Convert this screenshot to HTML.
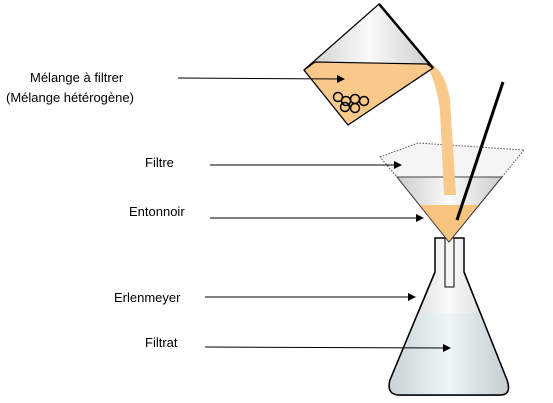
<!DOCTYPE html>
<html><head><meta charset="utf-8"><style>
body{margin:0;background:#fff}
svg{display:block}
text{font-family:"Comic Sans MS","Liberation Sans",sans-serif;font-size:13px;fill:#000}
</style></head><body>
<svg width="553" height="403" viewBox="0 0 553 403">
<defs>
<marker id="ah" markerWidth="8" markerHeight="8" refX="7" refY="4" orient="auto"><path d="M0,0 L8,4 L0,8z" fill="#000"/></marker>
<linearGradient id="glass" x1="0" x2="1"><stop offset="0" stop-color="#c9d3d6"/><stop offset="0.5" stop-color="#eef6f9"/><stop offset="1" stop-color="#c3ccd0"/></linearGradient>
<linearGradient id="fg" x1="0" x2="1"><stop offset="0" stop-color="#ccc"/><stop offset="0.5" stop-color="#fafafa"/><stop offset="1" stop-color="#ccc"/></linearGradient>
</defs>
<g>
<path d="M435,238 L435,272 L390,380 Q386,395 400,395 L500,395 Q512,395 507,380 L464,272 L464,238 Z" fill="url(#fg)" stroke="#000" stroke-width="1.5"/>
<path d="M418,313 L481,313 L507,380 Q512,395 500,395 L400,395 Q386,395 390,380 Z" fill="url(#glass)"/>
<path d="M435,272 L390,380 Q386,395 400,395 L500,395 Q512,395 507,380 L464,272" fill="none" stroke="#000" stroke-width="1.5"/>
<rect x="445" y="238" width="9" height="49" fill="#f4f4f4" stroke="#000"/>
</g>
<g>
<path d="M397,177 L502,177 L449,242 Z" fill="url(#fg)" stroke="#444"/>
<path d="M419,205 L479,205 L449,242 Z" fill="#f6c47f"/>
<path d="M380,157 L418,143 L524,150 L502,177 L397,177 Z" fill="#f2f2f2" fill-opacity="0.8" stroke="#555" stroke-dasharray="1.5,1.5"/>
<path d="M397,177 L502,177 L449,242 Z" fill="none" stroke="#444"/>
</g>
<path d="M430,63 Q446,72 450,100 L456,195 L444,195 L440,110 Q436,82 428,68 Z" fill="#f8c98a"/>
<line x1="503" y1="82" x2="457" y2="220" stroke="#000" stroke-width="3"/>
<g>
<path d="M379,4 L433,68 L348,125 L304,70 Z" fill="url(#fg)" stroke="#000" stroke-width="1.2"/>
<path d="M315,62 L427,64 L433,68 L348,125 L304,70 Z" fill="#f8c98a" stroke="#000" stroke-width="1.2"/>
<line x1="379" y1="4" x2="433" y2="68" stroke="#000" stroke-width="2.5"/>
<g fill="none" stroke="#000" stroke-width="1.5">
<circle cx="338" cy="97" r="4.5"/><circle cx="346" cy="101" r="4.5"/><circle cx="355" cy="99" r="4.5"/><circle cx="364" cy="101" r="4.5"/><circle cx="345" cy="107" r="4.5"/><circle cx="355" cy="108" r="4.5"/>
</g>
</g>
<g stroke="#000" stroke-width="1" marker-end="url(#ah)">
<line x1="178" y1="78" x2="344" y2="79"/>
<line x1="210" y1="165" x2="401" y2="165"/>
<line x1="210" y1="218" x2="423" y2="218"/>
<line x1="205" y1="297" x2="415" y2="297"/>
<line x1="205" y1="347" x2="450" y2="348"/>
</g>
<text x="30" y="82">Mélange à filtrer</text>
<text x="6" y="102">(Mélange hétérogène)</text>
<text x="145" y="167">Filtre</text>
<text x="129" y="216">Entonnoir</text>
<text x="114" y="302">Erlenmeyer</text>
<text x="145" y="347">Filtrat</text>
</svg>
</body></html>
